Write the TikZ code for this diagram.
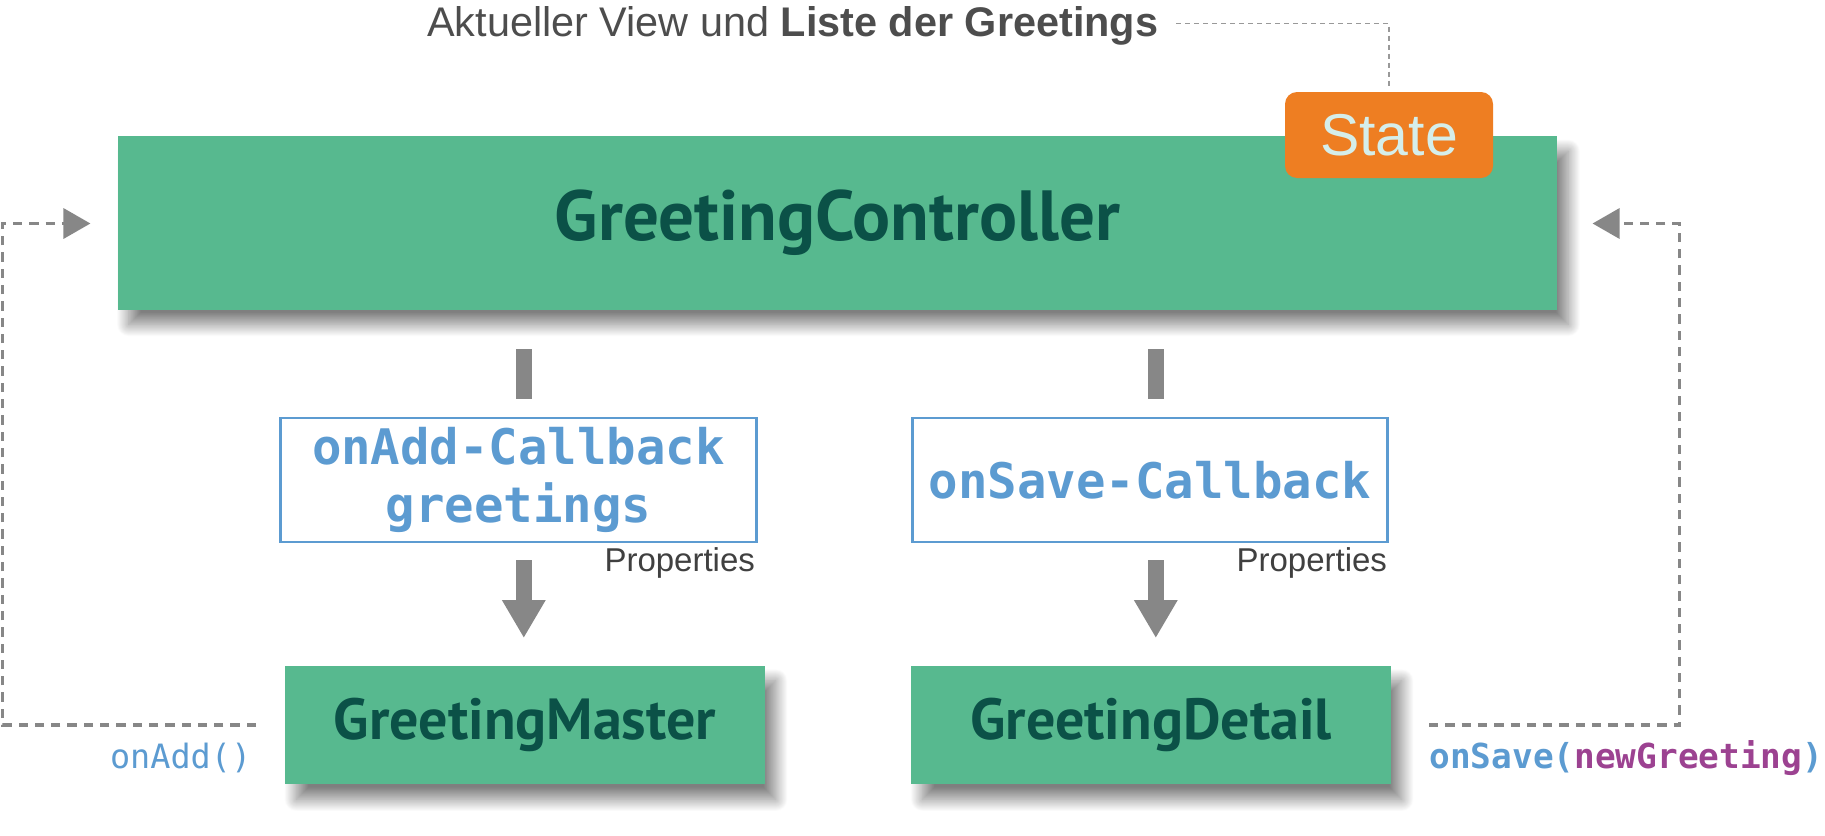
\documentclass[tikz,border=0pt]{standalone}
\usepackage{fontspec}
\setmainfont{Liberation Sans}
\newfontfamily\boxfont{PT Sans}
\newfontfamily\codefont{DejaVu Sans Mono}
\usetikzlibrary{arrows.meta,calc,shadows.blur}
\definecolor{cgreen}{HTML}{57B98F}
\definecolor{cdark}{HTML}{0B5147}
\definecolor{corange}{HTML}{EE7E22}
\definecolor{cstate}{HTML}{D5EEEA}
\definecolor{cblue}{HTML}{5C9BD1}
\definecolor{cpurple}{HTML}{9C4291}
\definecolor{cgray}{HTML}{878787}
\definecolor{cprop}{HTML}{404040}
\definecolor{ctitle}{HTML}{4D4D4D}
\tikzset{
  comp/.style={fill=cgreen, draw=none, inner sep=0pt, text=cdark, font=\boxfont\bfseries,
    blur shadow={shadow xshift=11pt, shadow yshift=-15pt, shadow blur radius=12pt,
      shadow blur steps=30, shadow opacity=50}},
  propbox/.style={draw=cblue, line width=2.2pt, fill=white, inner sep=0pt, text=cblue,
    font=\codefont\bfseries\fontsize{49}{58}\selectfont, align=center},
  proplabel/.style={anchor=east, text=cprop, font=\fontsize{33}{38}\selectfont, inner sep=0pt},
  flow/.style={draw=cgray, line width=3.5pt, dash pattern=on 9.3pt off 7pt,
    -{Triangle[length=27pt,width=30pt]}},
  bar/.style={draw=cgray, line width=16pt},
  bigarrow/.style={draw=cgray, line width=16pt, -{Triangle[length=38pt,width=41pt]}},
}
\begin{document}
\begin{tikzpicture}[x=1pt,y=-1pt]
\useasboundingbox (0,0) rectangle (1825,835);
% title
\node[anchor=base west, inner sep=0pt, text=ctitle, font=\fontsize{41.4}{48}\selectfont] (title) at (427,36)
  {Aktueller View und \textbf{Liste der Greetings}};
% main controller
\node[comp, minimum width=1439.7pt, minimum height=173.4pt, font=\boxfont\bfseries\fontsize{71}{78}\selectfont] (ctrl) at (837.5,222.9) {GreetingController};
% state
\node[fill=corange, rounded corners=12pt, minimum width=208pt, minimum height=86pt, inner sep=0pt,
  text=cstate, font=\fontsize{59}{66}\selectfont] (state) at (1389,135) {State};
% title dashed link
\coordinate (tcorner) at (1389,23.3);
\draw[draw=gray!80, line width=1.5pt, dash pattern=on 5pt off 4pt]
  ([xshift=18pt]title.east |- tcorner) -- (tcorner) -- ([yshift=4pt]state.north);
% properties boxes
\node[propbox, minimum width=476pt, minimum height=124.5pt] (onadd) at (518.5,480.1)
  {onAdd-Callback\\greetings};
\node[propbox, minimum width=475pt, minimum height=124.5pt] (onsave) at (1150,480.1)
  {onSave-Callback};
\node[proplabel] (p1) at ($(onadd.south east)+(-2.5,19.6)$) {Properties};
\node[proplabel] (p2) at ($(onsave.south east)+(-1.4,19.6)$) {Properties};
% children
\node[comp, minimum width=479.5pt, minimum height=118.7pt, font=\boxfont\bfseries\fontsize{58}{64}\selectfont] (master) at (525,725.1) {GreetingMaster};
\node[comp, minimum width=479.5pt, minimum height=118.7pt, font=\boxfont\bfseries\fontsize{58}{64}\selectfont] (detail) at (1151.1,725.1) {GreetingDetail};
% bars and arrows
\draw[bar] (523.8,349) -- (523.8,399);
\draw[bar] (1155.8,349) -- (1155.8,399);
\draw[bigarrow] (523.8,560) -- (523.8,638);
\draw[bigarrow] (1155.8,560) -- (1155.8,638);
% callbacks
\coordinate (lc1) at (2.3,725.1);
\coordinate (lc2) at (2.3,223.5);
\draw[flow] ([xshift=-29pt]master.west) -- (lc1) -- (lc2) -- ([xshift=-27pt]lc2 -| ctrl.west);
\coordinate (rc1) at (1679.5,725.1);
\coordinate (rc2) at (1679.5,223.5);
\draw[flow] ([xshift=38pt]detail.east) -- (rc1) -- (rc2) -- ([xshift=35pt]rc2 -| ctrl.east);
\node[anchor=east, inner sep=0pt, text=cblue, font=\codefont\fontsize{33.5}{40}\selectfont] (addcall) at (251.4,757.7) {onAdd()};
\node[anchor=west, inner sep=0pt, text=cblue, font=\codefont\bfseries\fontsize{34.4}{40}\selectfont] (savecall) at (1429.3,757.7) {onSave(\textcolor{cpurple}{newGreeting})};
\end{tikzpicture}
\end{document}
